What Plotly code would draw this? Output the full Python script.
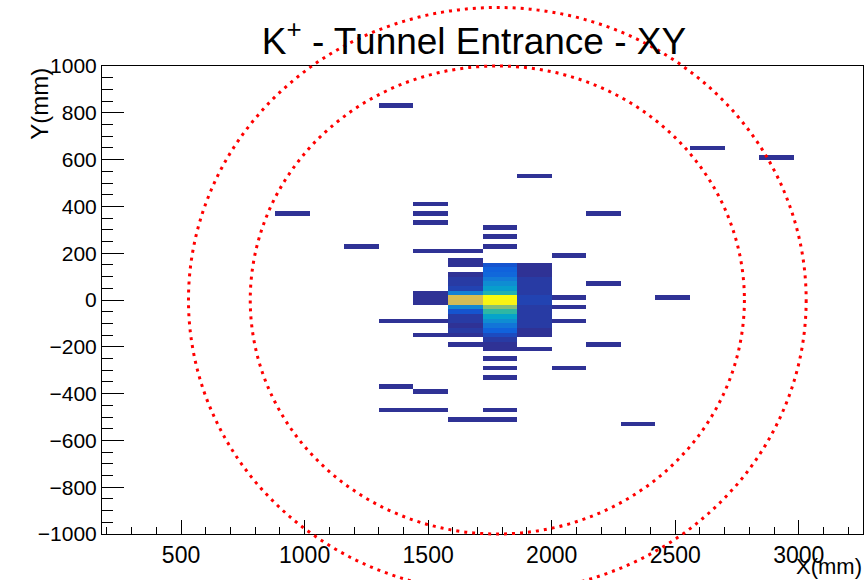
import plotly.graph_objects as go

# Histogram binning (mm)
X_MIN, X_MAX, NX = 180, 3260, 22
Y_MIN, Y_MAX, NY = -1000, 1000, 100

# Filled bins: bin-centre x, bin-centre y, entries
hit_x = [
    # isolated hits
    1370, 2630, 2910, 1930, 950, 2210, 1510, 1510, 1510, 1790, 1790, 1790,
    1230, 1510, 1650, 2070, 1650, 1650, 2210, 1510, 1510, 1510, 2070, 2490,
    2070, 1370, 1510, 2070, 1510, 1650, 2210, 1930, 2070, 1790, 1790, 1790,
    1370, 1510, 1370, 1510, 1790, 1650, 1790, 2350,
    # core column 1720-1860
    1790, 1790, 1790, 1790, 1790, 1790, 1790, 1790, 1790, 1790, 1790, 1790,
    1790, 1790, 1790, 1790, 1790, 1790, 1790,
    # core column 1580-1720
    1650, 1650, 1650, 1650, 1650, 1650, 1650, 1650, 1650, 1650, 1650, 1650,
    1650, 1650,
    # core column 1860-2000
    1930, 1930, 1930, 1930, 1930, 1930, 1930, 1930, 1930, 1930, 1930, 1930,
    1930, 1930, 1930, 1930,
]
hit_y = [
    830, 650, 610, 530, 370, 370, 410, 370, 330, 310, 270, 230,
    230, 210, 210, 190, 170, 150, 70, 30, 10, -10, 10, 10,
    -30, -90, -90, -90, -150, -190, -190, -210, -290, -250, -290, -330,
    -370, -390, -470, -470, -470, -510, -510, -530,
    150, 130, 110, 90, 70, 50, 30, 10, -10, -30, -50, -70,
    -90, -110, -130, -150, -170, -190, -210,
    110, 90, 70, 50, 30, 10, -10, -30, -50, -70, -90, -110,
    -130, -150,
    150, 130, 110, 90, 70, 50, 30, 10, -10, -30, -50, -70,
    -90, -110, -130, -150,
]
hit_n = [
    1, 1, 1, 1, 1, 1, 1, 1, 1, 1, 1, 1,
    1, 1, 1, 1, 1, 1, 1, 1, 1, 1, 1, 1,
    1, 1, 1, 1, 1, 1, 1, 1, 1, 1, 1, 1,
    1, 1, 1, 1, 1, 1, 1, 1,
    5, 7, 8, 11, 14, 17, 22, 48, 47, 30, 24, 18,
    14, 10, 7, 4, 2, 1, 1,
    1, 2, 2, 3, 12, 37, 36, 13, 5, 2, 2, 1,
    2, 1,
    1, 1, 1, 2, 2, 2, 2, 3, 3, 2, 2, 2,
    2, 2, 1, 1,
]

# Acceptance circles (centre x, centre y, radius) in mm
circle_cx = [1780, 1780]
circle_cy = [0, 0]
circle_r = [1000, 1250]

x_ticks = [500, 1000, 1500, 2000, 2500, 3000]
y_ticks = list(range(-1000, 1001, 200))

dx = (X_MAX - X_MIN) / NX
dy = (Y_MAX - Y_MIN) / NY
x_centres = [X_MIN + dx * (i + 0.5) for i in range(NX)]
y_centres = [Y_MIN + dy * (j + 0.5) for j in range(NY)]

grid = [[None] * NX for _ in range(NY)]
for xv, yv, nv in zip(hit_x, hit_y, hit_n):
    i = int((xv - X_MIN) // dx)
    j = int((yv - Y_MIN) // dy)
    grid[j][i] = nv

# ROOT kBird palette
bird = [
    (0.2082, 0.1664, 0.5293), (0.0592, 0.3599, 0.8684), (0.0780, 0.5041, 0.8385),
    (0.0232, 0.6419, 0.7914), (0.1802, 0.7178, 0.6425), (0.5301, 0.7492, 0.4662),
    (0.8186, 0.7328, 0.3499), (0.9956, 0.7862, 0.1968), (0.9764, 0.9832, 0.0539),
]
colorscale = [
    [k / (len(bird) - 1), "rgb(%d,%d,%d)" % tuple(round(c * 255) for c in rgb)]
    for k, rgb in enumerate(bird)
]

fig = go.Figure()
fig.add_trace(go.Heatmap(
    x=x_centres, y=y_centres, z=grid,
    colorscale=colorscale, zmin=0, zmax=max(hit_n),
    showscale=False, hoverongaps=False,
))

def px(v):
    return (v - X_MIN) / (X_MAX - X_MIN)

def py(v):
    return (v - Y_MIN) / (Y_MAX - Y_MIN)

for cx, cy, r in zip(circle_cx, circle_cy, circle_r):
    fig.add_shape(
        type="circle", xref="paper", yref="paper",
        x0=px(cx - r), x1=px(cx + r), y0=py(cy - r), y1=py(cy + r),
        line=dict(color="#ff0000", width=3, dash="3px,5px"),
        layer="above",
    )

font = "Liberation Sans, Arial, Helvetica, sans-serif"

fig.update_layout(
    width=864, height=580,
    margin=dict(l=102, r=1, t=66, b=46),
    plot_bgcolor="white", paper_bgcolor="white",
    title=dict(
        text="K<sup>+</sup> - Tunnel Entrance - XY",
        x=474 / 864, xanchor="center", y=1 - 41 / 580, yanchor="middle",
        yref="container",
        font=dict(family=font, size=37, color="black"),
    ),
    xaxis=dict(
        range=[X_MIN, X_MAX], tickvals=x_ticks,
        ticks="inside", ticklen=14, tickwidth=1, tickcolor="black",
        minor=dict(dtick=100, tick0=0, ticks="inside", ticklen=7, tickcolor="black"),
        showline=True, linecolor="black", linewidth=1, mirror=True,
        showgrid=False, zeroline=False,
        tickfont=dict(family=font, size=23, color="black"),
    ),
    yaxis=dict(
        range=[Y_MIN, Y_MAX], tickvals=y_ticks,
        ticks="inside", ticklen=22, tickwidth=1, tickcolor="black",
        minor=dict(dtick=50, tick0=0, ticks="inside", ticklen=11, tickcolor="black"),
        showline=True, linecolor="black", linewidth=1, mirror=True,
        showgrid=False, zeroline=False,
        tickfont=dict(family=font, size=21, color="black"),
    ),
    annotations=[
        dict(text="X(mm)", xref="paper", yref="paper", x=1, y=-0.0406,
             xanchor="right", yanchor="top", showarrow=False, borderpad=0,
             font=dict(family=font, size=22, color="black")),
        dict(text="Y(mm)", xref="paper", yref="paper", x=-0.083, y=1,
             xanchor="center", yanchor="top", textangle=-90, showarrow=False,
             font=dict(family=font, size=24, color="black")),
    ],
)

fig.write_html("out.html")
